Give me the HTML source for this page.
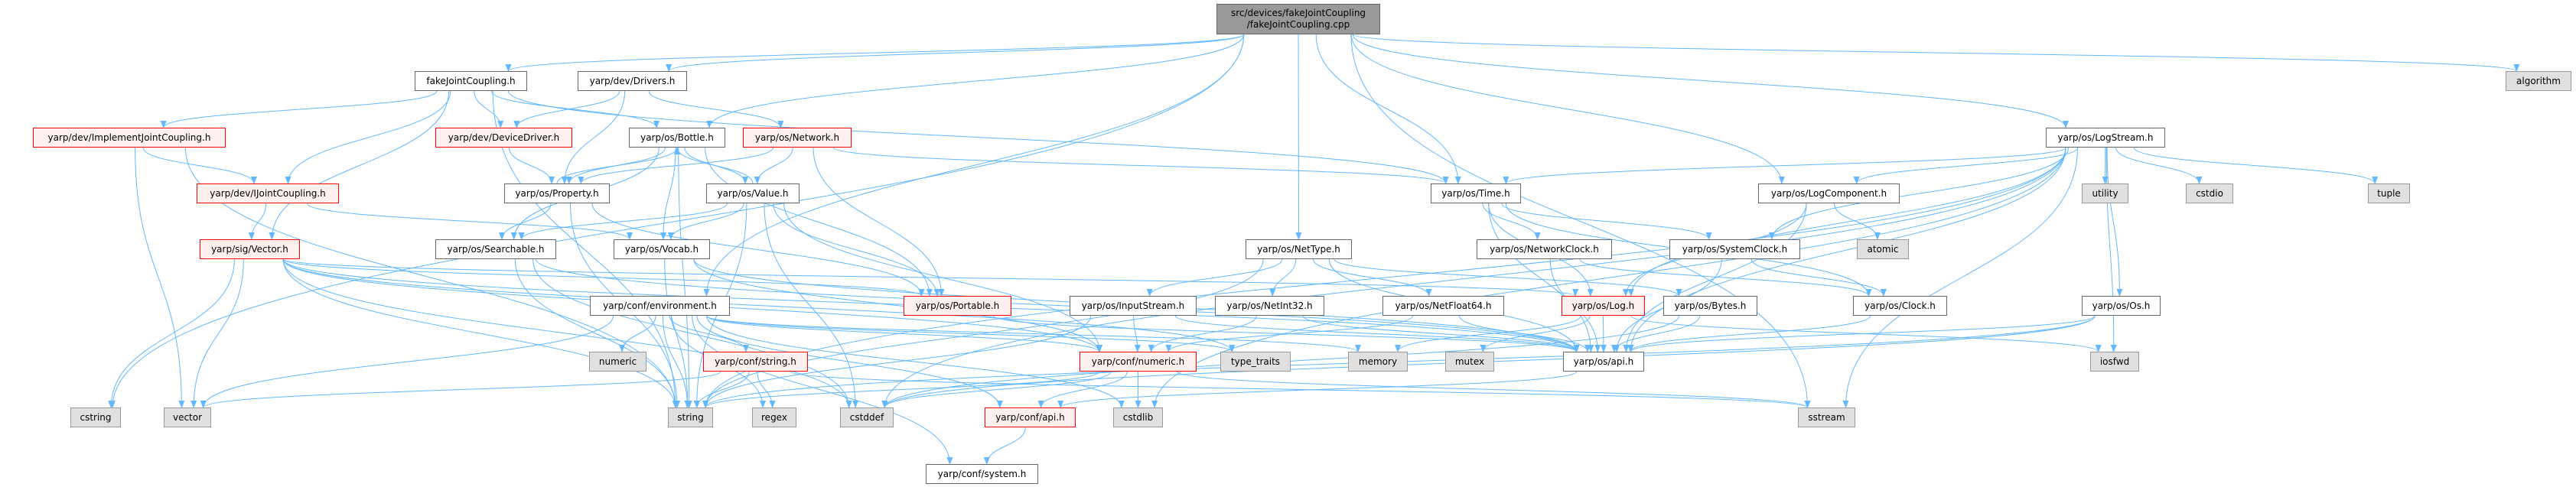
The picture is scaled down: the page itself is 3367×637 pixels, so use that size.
<!DOCTYPE html>
<html><head><meta charset="utf-8">
<style>
html,body{margin:0;padding:0;background:#fff;}
body{width:3367px;height:637px;overflow:hidden;position:relative;font-family:"DejaVu Sans","Liberation Sans",sans-serif;}
.n{position:absolute;box-sizing:border-box;border:1.5px solid #666;background:#fff;font-size:12px;color:#000;display:flex;align-items:center;justify-content:center;text-align:center;line-height:15px;white-space:nowrap;}
.r{background:#fff0f0;border-color:#f00;}
.g{background:#e0e0e0;border-color:#999;}
.t{background:#999;border-color:#666;}
svg{position:absolute;left:0;top:0;}
</style></head><body>
<svg id="s" width="3367" height="637" viewBox="0 0 3367 637">
<defs><marker id="a" markerWidth="10" markerHeight="8" refX="9" refY="4" orient="auto" markerUnits="userSpaceOnUse"><path d="M0,0 L10,4 L0,8 z" fill="#63b8ff"/></marker></defs>
<g id="e" fill="none" stroke="#63b8ff" stroke-width="1"></g>
</svg>
<div class="n t" id="top" style="left:1590px;top:5px;width:214px;height:40px;">src/devices/fakeJointCoupling<br>/fakeJointCoupling.cpp</div>
<div class="n" id="fjc" style="left:542px;top:93px;width:147px;height:26px;">fakeJointCoupling.h</div>
<div class="n" id="drv" style="left:755px;top:93px;width:143px;height:26px;">yarp/dev/Drivers.h</div>
<div class="n g" id="alg" style="left:3275px;top:93px;width:86px;height:26px;">algorithm</div>
<div class="n r" id="ijc" style="left:43px;top:167px;width:252px;height:26px;">yarp/dev/ImplementJointCoupling.h</div>
<div class="n r" id="dd" style="left:569px;top:167px;width:179px;height:26px;">yarp/dev/DeviceDriver.h</div>
<div class="n" id="bot" style="left:822px;top:167px;width:126px;height:26px;">yarp/os/Bottle.h</div>
<div class="n r" id="net" style="left:971px;top:167px;width:142px;height:26px;">yarp/os/Network.h</div>
<div class="n" id="ls" style="left:2674px;top:167px;width:156px;height:26px;">yarp/os/LogStream.h</div>
<div class="n r" id="ij" style="left:257px;top:240px;width:186px;height:26px;">yarp/dev/IJointCoupling.h</div>
<div class="n" id="prop" style="left:659px;top:240px;width:138px;height:26px;">yarp/os/Property.h</div>
<div class="n" id="val" style="left:923px;top:240px;width:122px;height:26px;">yarp/os/Value.h</div>
<div class="n" id="time" style="left:1870px;top:240px;width:118px;height:26px;">yarp/os/Time.h</div>
<div class="n" id="lc" style="left:2298px;top:240px;width:185px;height:26px;">yarp/os/LogComponent.h</div>
<div class="n g" id="util" style="left:2721px;top:240px;width:61px;height:26px;">utility</div>
<div class="n g" id="cstdio" style="left:2857px;top:240px;width:62px;height:26px;">cstdio</div>
<div class="n g" id="tuple" style="left:3095px;top:240px;width:55px;height:26px;">tuple</div>
<div class="n r" id="vec" style="left:261px;top:313px;width:131px;height:26px;">yarp/sig/Vector.h</div>
<div class="n" id="srch" style="left:569px;top:313px;width:158px;height:26px;">yarp/os/Searchable.h</div>
<div class="n" id="voc" style="left:802px;top:313px;width:126px;height:26px;">yarp/os/Vocab.h</div>
<div class="n" id="nt" style="left:1628px;top:313px;width:139px;height:26px;">yarp/os/NetType.h</div>
<div class="n" id="nc" style="left:1930px;top:313px;width:177px;height:26px;">yarp/os/NetworkClock.h</div>
<div class="n" id="sc" style="left:2182px;top:313px;width:171px;height:26px;">yarp/os/SystemClock.h</div>
<div class="n g" id="atom" style="left:2427px;top:313px;width:68px;height:26px;">atomic</div>
<div class="n" id="env" style="left:771px;top:387px;width:183px;height:26px;">yarp/conf/environment.h</div>
<div class="n r" id="port" style="left:1181px;top:387px;width:141px;height:26px;">yarp/os/Portable.h</div>
<div class="n" id="is" style="left:1398px;top:387px;width:166px;height:26px;">yarp/os/InputStream.h</div>
<div class="n" id="ni" style="left:1588px;top:387px;width:143px;height:26px;">yarp/os/NetInt32.h</div>
<div class="n" id="nf" style="left:1807px;top:387px;width:159px;height:26px;">yarp/os/NetFloat64.h</div>
<div class="n r" id="log" style="left:2041px;top:387px;width:109px;height:26px;">yarp/os/Log.h</div>
<div class="n" id="byt" style="left:2174px;top:387px;width:123px;height:26px;">yarp/os/Bytes.h</div>
<div class="n" id="clk" style="left:2422px;top:387px;width:123px;height:26px;">yarp/os/Clock.h</div>
<div class="n" id="os" style="left:2721px;top:387px;width:103px;height:26px;">yarp/os/Os.h</div>
<div class="n g" id="num" style="left:770px;top:460px;width:75px;height:26px;">numeric</div>
<div class="n r" id="cs" style="left:919px;top:460px;width:137px;height:26px;">yarp/conf/string.h</div>
<div class="n r" id="cn" style="left:1411px;top:460px;width:153px;height:26px;">yarp/conf/numeric.h</div>
<div class="n g" id="tt" style="left:1595px;top:460px;width:92px;height:26px;">type_traits</div>
<div class="n g" id="mem" style="left:1762px;top:460px;width:78px;height:26px;">memory</div>
<div class="n g" id="mtx" style="left:1889px;top:460px;width:64px;height:26px;">mutex</div>
<div class="n" id="oapi" style="left:2043px;top:460px;width:106px;height:26px;">yarp/os/api.h</div>
<div class="n g" id="iosf" style="left:2732px;top:460px;width:64px;height:26px;">iosfwd</div>
<div class="n g" id="cstr" style="left:92px;top:533px;width:66px;height:26px;">cstring</div>
<div class="n g" id="vect" style="left:214px;top:533px;width:62px;height:26px;">vector</div>
<div class="n g" id="str" style="left:873px;top:533px;width:59px;height:26px;">string</div>
<div class="n g" id="rgx" style="left:983px;top:533px;width:58px;height:26px;">regex</div>
<div class="n g" id="cdef" style="left:1098px;top:533px;width:70px;height:26px;">cstddef</div>
<div class="n r" id="capi" style="left:1287px;top:533px;width:119px;height:26px;">yarp/conf/api.h</div>
<div class="n g" id="clib" style="left:1455px;top:533px;width:65px;height:26px;">cstdlib</div>
<div class="n g" id="sst" style="left:2350px;top:533px;width:75px;height:26px;">sstream</div>
<div class="n" id="csys" style="left:1210px;top:607px;width:147px;height:26px;">yarp/conf/system.h</div>
<script>
(function(){
var E=[["top","fjc"],["top","drv"],["top","bot"],["top","env"],["top","nt"],["top","time"],["top","lc"],["top","ls"],["top","alg"],["top","sst"],["top","cstr"],
["fjc","ijc"],["fjc","ij"],["fjc","vec"],["fjc","dd"],["fjc","bot"],["fjc","time"],["fjc","str"],
["drv","dd"],["drv","prop"],["drv","net"],
["ijc","ij"],["ijc","vect"],["ijc","str"],
["dd","prop"],
["bot","prop"],["bot","val"],["bot","voc"],["bot","srch"],["bot","port"],["bot","str"],
["net","prop"],["net","val"],["net","port"],["net","time"],
["ls","time"],["ls","lc"],["ls","util"],["ls","cstdio"],["ls","tuple"],["ls","os"],["ls","iosf"],["ls","log"],["ls","oapi"],["ls","str"],["ls","sst"],["ls","clib"],["ls","cdef"],["ls","sc"],
["ij","vec"],["ij","voc"],
["prop","srch"],["prop","port"],["prop","str"],["prop","bot"],
["val","bot"],["val","voc"],["val","srch"],["val","port"],["val","str"],["val","cn"],["val","cdef"],
["time","nc"],["time","sc"],["time","clk"],["time","log"],["time","oapi"],
["lc","atom"],["lc","log"],["lc","oapi"],
["vec","cstr"],["vec","vect"],["vec","str"],["vec","cdef"],["vec","port"],["vec","log"],["vec","cn"],["vec","tt"],["vec","oapi"],
["srch","str"],["srch","oapi"],["srch","cdef"],
["voc","str"],["voc","oapi"],["voc","cn"],
["nt","is"],["nt","ni"],["nt","nf"],["nt","byt"],["nt","str"],["nt","oapi"],
["nc","clk"],["nc","oapi"],["sc","clk"],["sc","oapi"],
["env","num"],["env","str"],["env","vect"],["env","cs"],["env","rgx"],["env","clib"],["env","cn"],["env","capi"],["env","csys"],["env","mem"],["env","tt"],
["port","oapi"],["is","cn"],["is","str"],["is","oapi"],["ni","cn"],["ni","oapi"],["nf","cn"],["nf","oapi"],
["log","oapi"],["log","mem"],["log","mtx"],["log","iosf"],
["byt","oapi"],["byt","cdef"],["clk","oapi"],["os","oapi"],["os","cdef"],["os","str"],
["cs","str"],["cs","rgx"],["cs","vect"],["cs","sst"],
["cn","capi"],["cn","cdef"],["cn","clib"],["cn","str"],["cn","sst"],
["oapi","capi"],["capi","csys"]];
function b(id){var d=document.getElementById(id);return{x:d.offsetLeft,y:d.offsetTop,w:d.offsetWidth,h:d.offsetHeight};}
var g=document.getElementById("e"),ns="http://www.w3.org/2000/svg";
E.forEach(function(p){var s=b(p[0]),t=b(p[1]);var sx,sy,tx,ty,d;
var sc=s.x+s.w/2,tc=t.x+t.w/2;
if(t.y>s.y+s.h-2){sx=sc+Math.max(-s.w/3,Math.min(s.w/3,(tc-sc)*0.1));sy=s.y+s.h;
 if(Math.abs(t.y-s.y)<10){}
 if(t.y-s.y<5&&false){}
 tx=tc+Math.max(-t.w/3,Math.min(t.w/3,(sc-tc)*0.1));ty=t.y;
 if(Math.abs(t.y-(s.y+s.h))<30&&Math.abs(tc-sc)>300){ty=t.y+t.h/2;tx=(tc>sc)?t.x:t.x+t.w;}
 var m=(ty-sy)/2;d="M"+sx+","+sy+" C"+sx+","+(sy+m)+" "+tx+","+(ty-m)+" "+tx+","+ty;}
else if(t.y+t.h<s.y){sx=sc;sy=s.y;tx=tc;ty=t.y+t.h;var m=(sy-ty)/2;d="M"+sx+","+sy+" C"+sx+","+(sy-m)+" "+tx+","+(ty+m)+" "+tx+","+ty;}
else{sy=s.y+s.h/2;ty=t.y+t.h/2;if(tc>sc){sx=s.x+s.w;tx=t.x;}else{sx=s.x;tx=t.x+t.w;}d="M"+sx+","+sy+" L"+tx+","+ty;}
var e=document.createElementNS(ns,"path");e.setAttribute("d",d);e.setAttribute("marker-end","url(#a)");g.appendChild(e);});
})();
</script>
</body></html>
